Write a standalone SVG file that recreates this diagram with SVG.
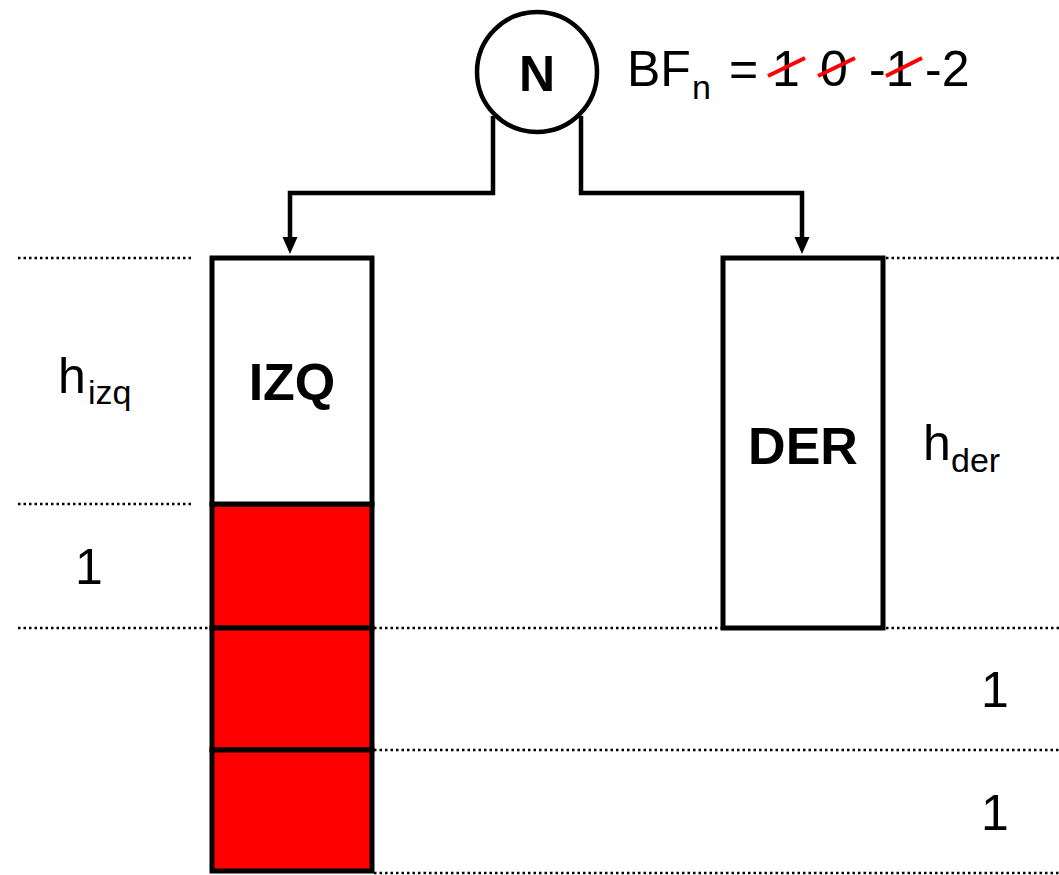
<svg xmlns="http://www.w3.org/2000/svg" width="1059" height="875" viewBox="0 0 1059 875">
<defs>
<style>
.dot{stroke:#000;stroke-width:2.5;stroke-dasharray:2.5 3;fill:none}
.box{stroke:#000;stroke-width:5;fill:#fff}
.cell{stroke:#000;stroke-width:5;fill:#ff0000}
.conn{stroke:#000;stroke-width:4.5;fill:none}
.lbl{font-family:"Liberation Sans",Arial,sans-serif;fill:#000}
.b{font-weight:bold;font-size:52px;text-anchor:middle}
.n{font-size:50px}
.s{font-size:34px}
.strike{stroke:#ff0000;stroke-width:4;fill:none}
</style>
</defs>
<g id="guides">
<line class="dot" x1="18" y1="258" x2="192" y2="258"/>
<line class="dot" x1="886" y1="258" x2="1059" y2="258"/>
<line class="dot" x1="18" y1="504" x2="192" y2="504"/>
<line class="dot" x1="18" y1="628" x2="212" y2="628"/>
<line class="dot" x1="374" y1="628" x2="723" y2="628"/>
<line class="dot" x1="886" y1="628" x2="1059" y2="628"/>
<line class="dot" x1="374" y1="750" x2="1059" y2="750"/>
<line class="dot" x1="374" y1="873" x2="1059" y2="873"/>
</g>
<g id="connectors">
<path class="conn" d="M493,116 V193 H290 V240"/>
<path class="conn" d="M581,116 V193 H802 V240"/>
<path d="M282.5,237 L297.5,237 L290,254 Z" fill="#000"/>
<path d="M794.5,237 L809.5,237 L802,254 Z" fill="#000"/>
</g>
<g id="node-N">
<circle cx="537" cy="72" r="60" stroke="#000" stroke-width="4.5" fill="#fff"/>
<text class="lbl b" x="537" y="91" style="font-size:50px">N</text>
</g>
<g id="node-IZQ">
<rect class="cell" x="212" y="504" width="160" height="124"/>
<rect class="cell" x="212" y="628" width="160" height="122"/>
<rect class="cell" x="212" y="750" width="160" height="121"/>
<rect class="box" x="212" y="258" width="160" height="246"/>
<text class="lbl b" x="292" y="400">IZQ</text>
</g>
<g id="node-DER">
<rect class="box" x="723" y="258" width="160" height="370"/>
<text class="lbl b" x="803" y="464">DER</text>
</g>
<g id="labels">
<text class="lbl n" x="627" y="86">BF</text>
<text class="lbl s" x="692" y="99">n</text>
<text class="lbl n" x="729" y="86">=</text>
<text class="lbl n" x="772" y="86">1</text>
<text class="lbl n" x="820" y="86">0</text>
<text class="lbl n" x="869" y="86">-1</text>
<text class="lbl n" x="925" y="86">-2</text>
<line class="strike" x1="768" y1="76" x2="805" y2="58"/>
<line class="strike" x1="818" y1="76" x2="855" y2="58"/>
<line class="strike" x1="886" y1="76" x2="922" y2="58"/>
<text class="lbl n" x="58" y="393">h</text>
<text class="lbl s" x="88" y="404">izq</text>
<text class="lbl n" x="923" y="460">h</text>
<text class="lbl s" x="951" y="472">der</text>
<text class="lbl n" x="75" y="584">1</text>
<text class="lbl n" x="981" y="707">1</text>
<text class="lbl n" x="981" y="830">1</text>
</g>
</svg>
